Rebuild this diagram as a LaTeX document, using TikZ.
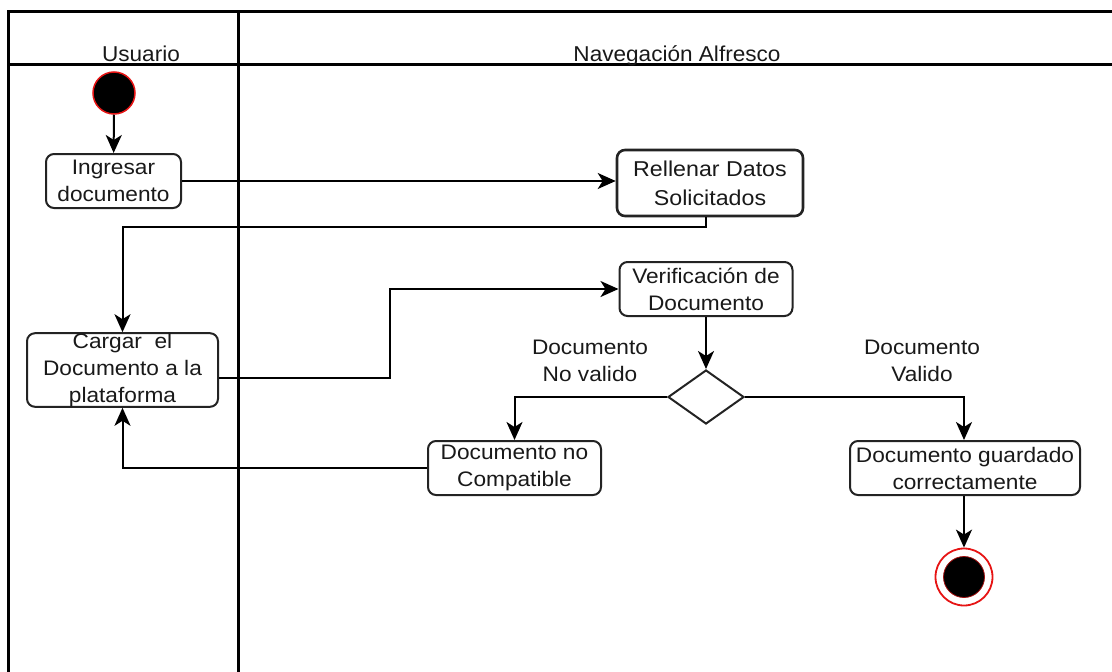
\documentclass[tikz,border=0pt]{standalone}
\usepackage{fontspec}
\setmainfont{Liberation Sans}[FakeStretch=1.08]
\newfontfamily\hdfont{Liberation Sans}[FakeStretch=1.05]
\usetikzlibrary{shapes.geometric,arrows.meta,calc}
\definecolor{txt}{RGB}{25,25,25}
\definecolor{bord}{RGB}{35,35,35}
\definecolor{startred}{RGB}{230,20,20}
\begin{document}
\begin{tikzpicture}[x=1pt,y=-1pt,
  act/.style={draw=bord,line width=2pt,rounded corners=8pt,fill=white,align=center,
    text=txt,inner sep=0pt,font=\fontsize{21}{27}\selectfont},
  lbl/.style={align=center,text=txt,font=\fontsize{21}{27}\selectfont},
  hdr/.style={anchor=base,text=txt,font=\hdfont\fontsize{21.5}{24}\selectfont},
  conn/.style={draw=black,line width=2pt,-{Stealth[length=18pt,width=16pt,inset=5pt]}},
  lane/.style={draw=black,line width=3pt}]
\useasboundingbox (0,0) rectangle (1112,672);
% swimlanes
\draw[lane] (1114,11) -- (8,11) -- (8,674);
\draw[lane] (8,64) -- (1114,64);
\draw[lane] (238,11) -- (238,674);
\node[hdr] (husr) at (141,61) {Usuario};
\node[hdr] (hnav) at (677,61) {Navegación Alfresco};
% nodes
\node[circle,fill=black,draw=startred,line width=1.5pt,minimum size=42pt,inner sep=0pt] (start) at (114,93) {};
\node[act,minimum width=135pt,minimum height=54pt] (ing) at (113.5,181) {Ingresar\\documento};
\node[act,line width=2.6pt,minimum width=186pt,minimum height=66pt,font=\fontsize{21.5}{29}\selectfont] (rell) at (710,183) {Rellenar Datos\\Solicitados};
\node[act,minimum width=191pt,minimum height=72pt] (carg) at (122.5,370) {Cargar\ \ el\\Documento a la\\plataforma};
\node[act,minimum width=173pt,minimum height=54pt] (ver) at (706,289) {Verificación de\\Documento};
\node[diamond,draw=bord,line width=2pt,fill=white,minimum width=76pt,minimum height=54pt,inner sep=0pt,aspect=1.4] (dec) at (706,397) {};
\node[act,minimum width=173pt,minimum height=54pt] (noc) at (514.5,468) {Documento no\\Compatible};
\node[act,minimum width=230pt,minimum height=54pt] (gua) at (965,468) {Documento guardado\\correctamente};
\node[circle,draw=startred,line width=1.8pt,fill=white,minimum size=57pt,inner sep=0pt] (fin) at (964,577) {};
\node[circle,fill=black,draw=startred!70!black,line width=0.8pt,minimum size=41pt,inner sep=0pt] (finin) at (fin.center) {};
\node[lbl] (lno) at (590,361) {Documento\\No valido};
\node[lbl] (lsi) at (922,361) {Documento\\Valido};
% connectors
\draw[conn] (start) -- (ing);
\draw[conn] (ing.east) -- (rell.west |- ing.east);
\draw[conn] (rell.south -| ver.south) -- ++(0,10) -| (carg.north);
\draw[conn] ($(carg.east)+(0,8)$) -| (390,289) -- (ver.west);
\draw[conn] (ver.south) -- (dec.north);
\draw[conn] (dec.west) -| (noc.north);
\draw[conn] (dec.east) -| (gua.north -| fin.north);
\draw[conn] (noc.west) -| (carg.south);
\draw[conn] (gua.south -| fin.north) -- (fin.north);
\end{tikzpicture}
\end{document}
